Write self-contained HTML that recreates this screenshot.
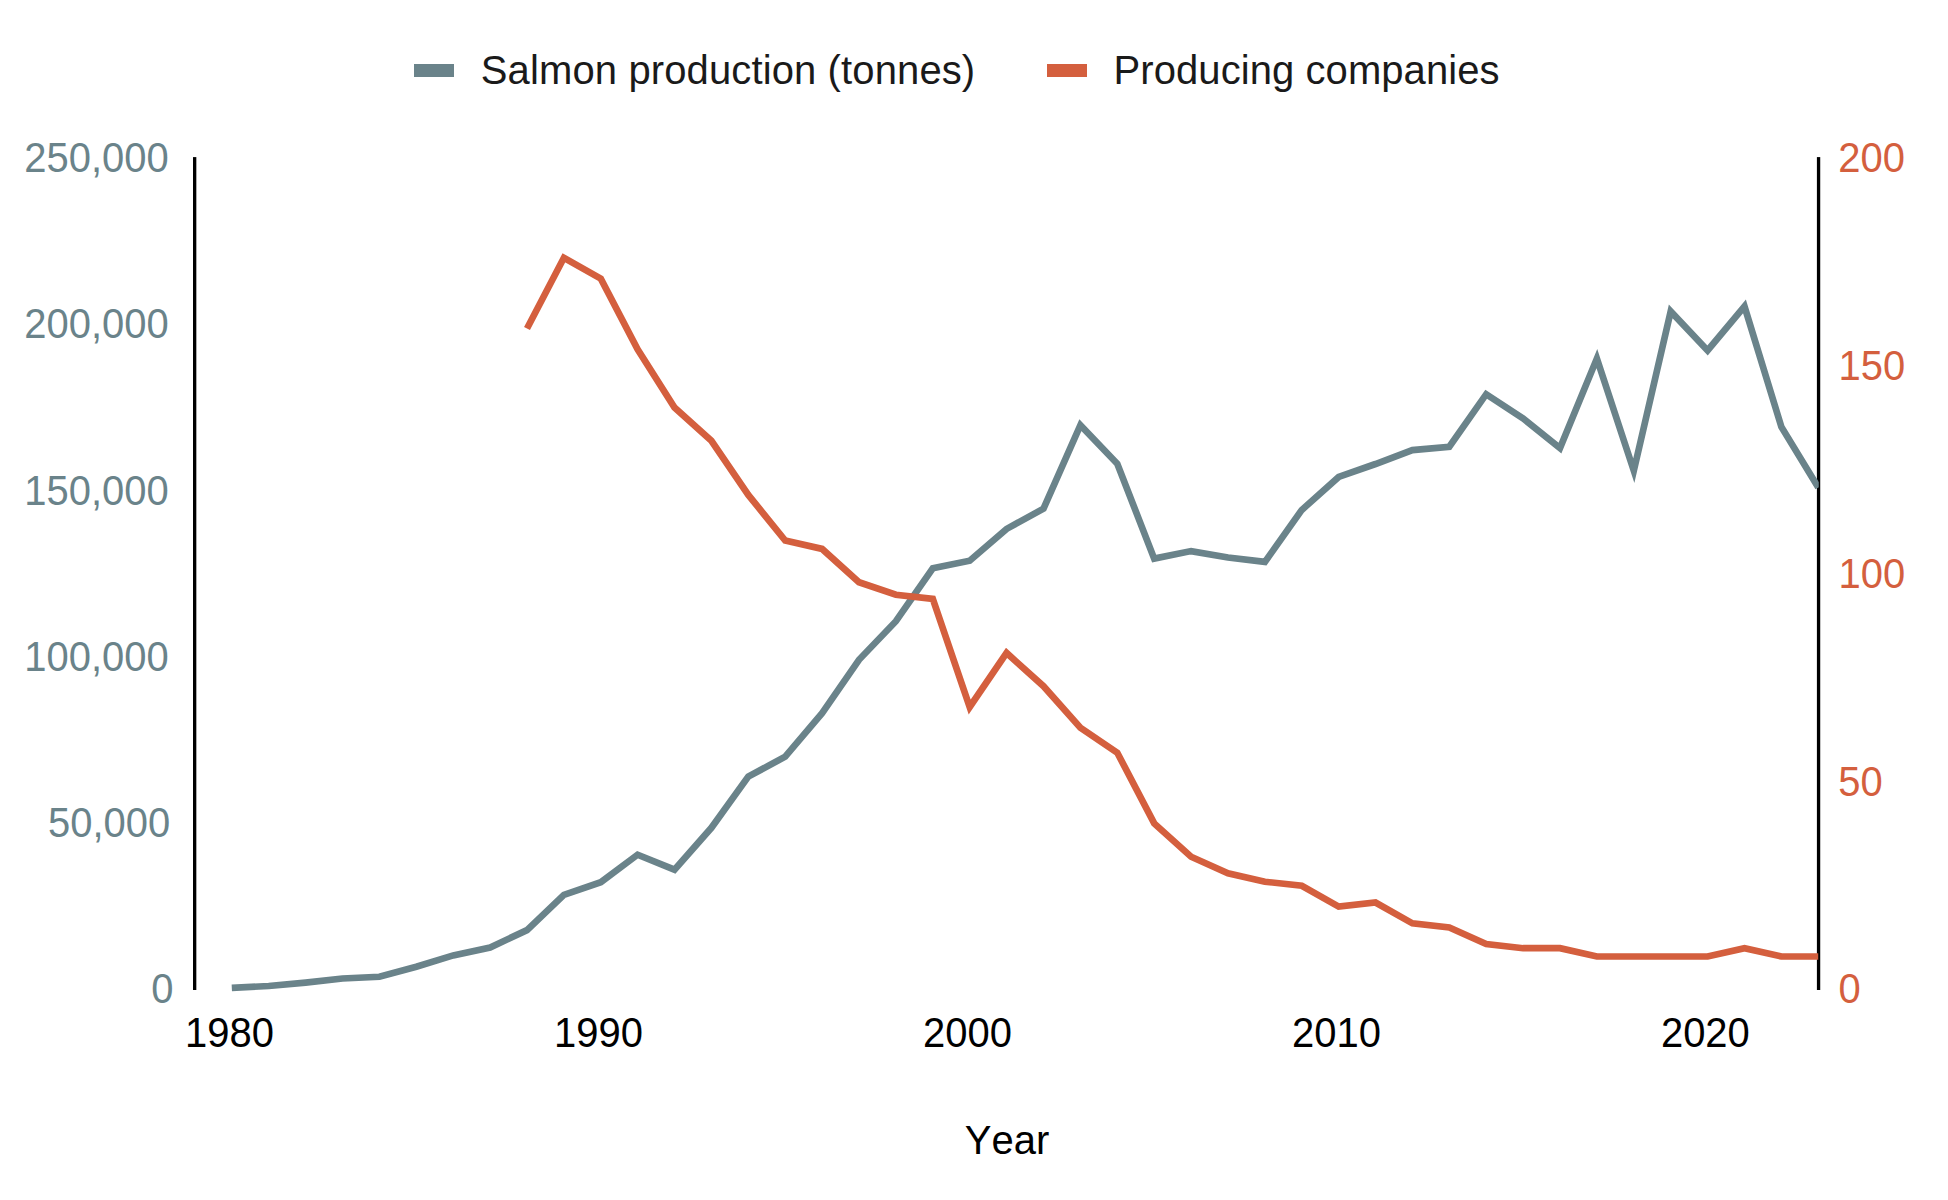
<!DOCTYPE html>
<html lang="en"><head><meta charset="utf-8"><title>Salmon production and producing companies</title>
<style>
html,body{margin:0;padding:0;background:#fff;}
body{width:1948px;height:1200px;overflow:hidden;}
svg{display:block;}
text{font-family:"Liberation Sans",sans-serif;font-size:40px;font-kerning:none;}
.b{fill:#6a838a}.o{fill:#d45f3e}.k{fill:#000}.l{fill:#1a1a1a}
</style></head><body>
<svg width="1948" height="1200" viewBox="0 0 1948 1200">
<rect width="1948" height="1200" fill="#fff"/>
<rect x="414" y="64" width="40" height="13" fill="#6a838a"/>
<text class="l" letter-spacing="0.12" x="480.8" y="84">Salmon production (tonnes)</text>
<rect x="1047" y="64" width="40" height="13" fill="#d45f3e"/>
<text class="l" letter-spacing="0.07" x="1113.6" y="84">Producing companies</text>
<rect x="193" y="157.1" width="3.33" height="832.9" fill="#000"/>
<rect x="1816.9" y="157.1" width="3.33" height="832.9" fill="#000"/>
<text class="b" text-anchor="end" transform="translate(168.8 172.3) scale(1 1.045)">250,000</text>
<text class="b" text-anchor="end" transform="translate(168.8 338.3) scale(1 1.045)">200,000</text>
<text class="b" text-anchor="end" transform="translate(168.8 505.3) scale(1 1.045)">150,000</text>
<text class="b" text-anchor="end" transform="translate(168.8 671.3) scale(1 1.045)">100,000</text>
<text class="b" text-anchor="end" transform="translate(170.2 837.3) scale(1 1.045)">50,000</text>
<text class="b" text-anchor="end" transform="translate(173.4 1003.3) scale(1 1.045)">0</text>
<text class="o" transform="translate(1838.3 172.3) scale(1 1.045)">200</text>
<text class="o" transform="translate(1838.6 380.3) scale(1 1.045)">150</text>
<text class="o" transform="translate(1838.6 588.3) scale(1 1.045)">100</text>
<text class="o" transform="translate(1838.3 796.3) scale(1 1.045)">50</text>
<text class="o" transform="translate(1838.5 1003.3) scale(1 1.045)">0</text>
<text class="k" transform="translate(185.1 1047.3) scale(1 1.045)">1980</text>
<text class="k" transform="translate(554.0 1047.3) scale(1 1.045)">1990</text>
<text class="k" transform="translate(923.0 1047.3) scale(1 1.045)">2000</text>
<text class="k" transform="translate(1292.0 1047.3) scale(1 1.045)">2010</text>
<text class="k" transform="translate(1660.9 1047.3) scale(1 1.045)">2020</text>
<text class="k" x="964.8" y="1154">Year</text>
<defs><clipPath id="c"><rect x="190" y="100" width="1628.75" height="900"/></clipPath></defs>
<g clip-path="url(#c)" fill="none" stroke-width="6.67" stroke-linejoin="miter" stroke-miterlimit="10" stroke-linecap="butt">
<path stroke="#6a838a" d="M231.8,987.8L268.7,986.0L305.6,982.6L342.5,978.5L379.4,976.8L416.3,966.8L453.2,955.4L490.1,947.5L527.0,930.1L563.9,894.8L600.8,882.2L637.6,854.7L674.5,869.7L711.4,827.8L748.3,776.6L785.2,756.7L822.1,713.2L859.0,659.8L895.9,621.2L932.8,568.3L969.7,560.7L1006.6,528.9L1043.5,508.7L1080.4,425.1L1117.3,463.8L1154.2,558.6L1191.1,551.1L1228.0,557.5L1264.9,561.9L1301.8,509.9L1338.7,476.9L1375.5,464.0L1412.4,450.1L1449.3,446.7L1486.2,394.2L1523.1,418.4L1560.0,448.1L1596.9,358.6L1633.8,470.7L1670.7,311.4L1707.6,350.5L1744.5,306.4L1781.4,426.9L1818.3,487.6"/>
<path stroke="#d45f3e" d="M527.0,328.5L563.9,257.8L600.8,278.6L637.6,349.3L674.5,407.5L711.4,440.8L748.3,494.9L785.2,540.6L822.1,548.9L859.0,582.2L895.9,594.7L932.8,598.9L969.7,707.0L1006.6,652.9L1043.5,686.2L1080.4,727.8L1117.3,752.7L1154.2,823.4L1191.1,856.7L1228.0,873.3L1264.9,881.7L1301.8,885.8L1338.7,906.6L1375.5,902.5L1412.4,923.3L1449.3,927.4L1486.2,944.1L1523.1,948.2L1560.0,948.2L1596.9,956.5L1633.8,956.5L1670.7,956.5L1707.6,956.5L1744.5,948.2L1781.4,956.5L1818.3,956.5"/>
</g>
</svg>
</body></html>
